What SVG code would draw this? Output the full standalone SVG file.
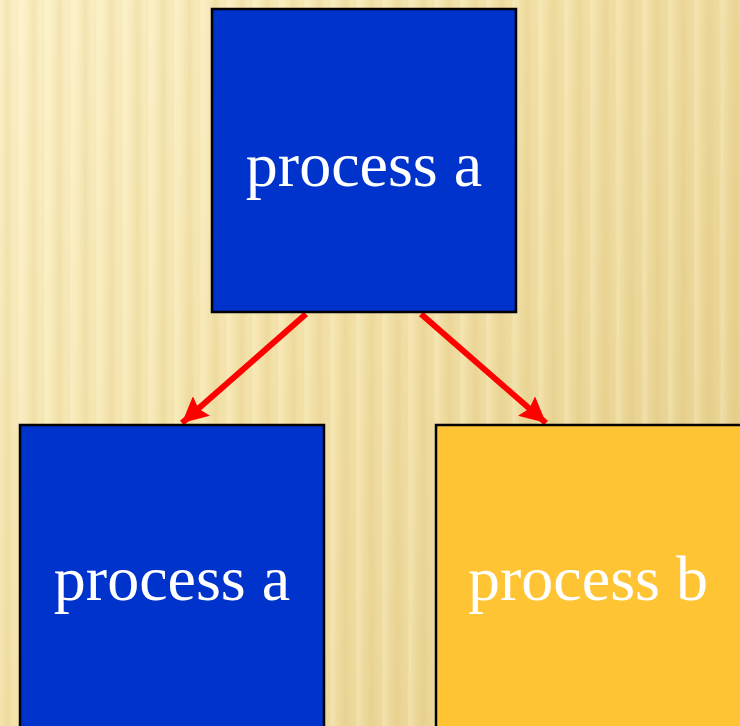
<svg xmlns="http://www.w3.org/2000/svg" width="740" height="726" viewBox="0 0 740 726">
<defs>
<linearGradient id="bg" x1="0" y1="0" x2="1" y2="0.6">
<stop offset="0" stop-color="#FCF1C8"/>
<stop offset="0.5" stop-color="#F3E2AA"/>
<stop offset="1" stop-color="#E8D291"/>
</linearGradient>
<linearGradient id="stripe" x1="0" y1="0" x2="1" y2="0">
<stop offset="0" stop-color="#D6BB6C" stop-opacity="0"/>
<stop offset="0.3" stop-color="#D6BB6C" stop-opacity="0.22"/>
<stop offset="0.55" stop-color="#D6BB6C" stop-opacity="0"/>
<stop offset="0.75" stop-color="#FFF8DC" stop-opacity="0.3"/>
<stop offset="1" stop-color="#FFF8DC" stop-opacity="0"/>
</linearGradient>
<pattern id="stripes" x="0" y="0" width="26" height="726" patternUnits="userSpaceOnUse">
<rect x="0" y="0" width="26" height="726" fill="url(#stripe)"/>
</pattern>
<marker id="ah" viewBox="0 0 10 10" refX="10" refY="5" markerWidth="4.3" markerHeight="4.3" orient="auto" markerUnits="strokeWidth">
<path d="M0,0 L10,5 L0,10 L1.5,5 z" fill="#FF0000"/>
</marker>
<style>
.box{stroke:#000;stroke-width:2.5}
.blue{fill:#0033CC}
.yellow{fill:#FFC433}
.lbl{font-family:"Liberation Serif","Times New Roman",serif;font-size:64px;fill:#fff;text-anchor:middle}
.conn{stroke:#FF0000;stroke-width:6;fill:none;marker-end:url(#ah)}
</style>
</defs>
<rect width="740" height="726" fill="url(#bg)"/>
<rect width="740" height="726" fill="url(#stripes)"/>
<g id="connectors">
<line class="conn" x1="306" y1="314" x2="182" y2="423"/>
<line class="conn" x1="421" y1="314" x2="546" y2="423"/>
</g>
<g id="node-top">
<rect class="box blue" x="212" y="9" width="304" height="303"/>
<text class="lbl" x="364" y="186">process a</text>
</g>
<g id="node-left">
<rect class="box blue" x="20" y="425" width="304" height="310"/>
<text class="lbl" x="172" y="600">process a</text>
</g>
<g id="node-right">
<rect class="box yellow" x="436" y="425" width="310" height="310"/>
<text class="lbl" x="588" y="600">process b</text>
</g>
</svg>
